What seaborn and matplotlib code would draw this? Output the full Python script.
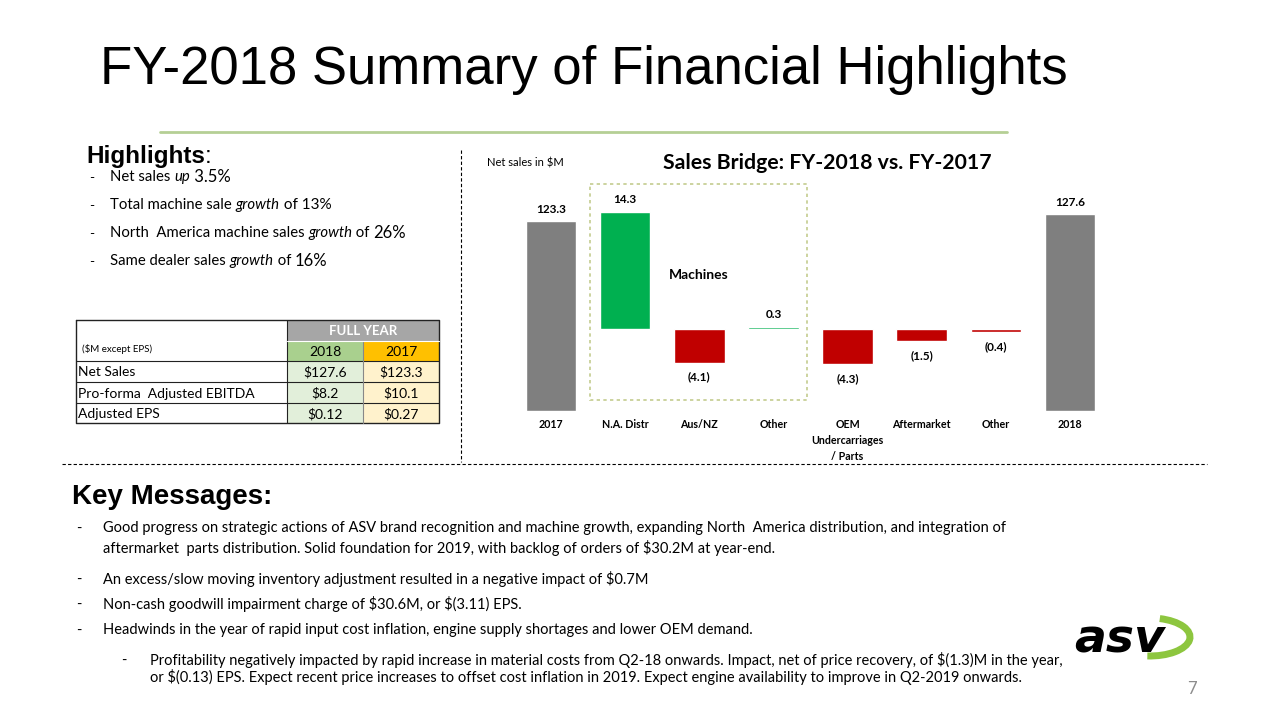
import matplotlib
matplotlib.use("Agg")
import matplotlib.pyplot as plt
from matplotlib.patches import Rectangle, Arc
import pandas as pd
import seaborn as sns

W, H = 1280, 720

# ---- data -------------------------------------------------------------
bar_keys = ["2017", "NA", "AUS", "OTH1", "OEM", "AFT", "OTH2", "2018"]
bar_labels = ["2017", "N.A. Distr", "Aus/NZ", "Other",
              "OEM\nUndercarriages\n/ Parts", "Aftermarket", "Other", "2018"]
total_keys = ["2017", "2018"]
total_values = [123.3, 127.6]
delta_keys = ["NA", "AUS", "OTH1", "OEM", "AFT", "OTH2"]
delta_values = [14.3, -4.1, 0.3, -4.3, -1.5, -0.4]

table_rows = ["Net Sales", "Pro-forma  Adjusted EBITDA", "Adjusted EPS"]
table_2018 = ["$127.6", "$8.2", "$0.12"]
table_2017 = ["$123.3", "$10.1", "$0.27"]

highlights = [
    [("Net sales ", {}), ("up", {"style": "italic"}), (" 3.5%", {"size": 12})],
    [("Total machine sale ", {}), ("growth", {"style": "italic"}), (" of 13%", {"size": 11})],
    [("North  America machine sales ", {}), ("growth", {"style": "italic"}),
     (" of ", {}), ("26%", {"size": 12})],
    [("Same dealer sales ", {}), ("growth", {"style": "italic"}),
     (" of ", {}), ("16%", {"size": 12})],
]

key_messages = [
    ["Good progress on strategic actions of ASV brand recognition and machine growth, "
     "expanding North  America distribution, and integration of",
     "aftermarket  parts distribution. Solid foundation for 2019, with backlog of orders "
     "of $30.2M at year-end."],
    ["An excess/slow moving inventory adjustment resulted in a negative impact of $0.7M"],
    ["Non-cash goodwill impairment charge of $30.6M, or $(3.11) EPS."],
    ["Headwinds in the year of rapid input cost inflation, engine supply shortages and "
     "lower OEM demand."],
]
sub_message = [
    "Profitability negatively impacted by rapid increase in material costs from Q2-18 "
    "onwards. Impact, net of price recovery, of $(1.3)M in the year,",
    "or $(0.13) EPS. Expect recent price increases to offset cost inflation in 2019. "
    "Expect engine availability to improve in Q2-2019 onwards.",
]

GREY = "#7f7f7f"
GREEN = "#00b050"
RED = "#c00000"

sns.set_style("white")
plt.rcParams["font.family"] = ["Lato", "DejaVu Sans"]
plt.rcParams["text.parse_math"] = False
plt.rcParams["text.color"] = "black"
plt.rcParams["xtick.color"] = "black"

fig = plt.figure(figsize=(12.8, 7.2), dpi=100)
bg = fig.add_axes([0, 0, 1, 1], zorder=0)
bg.set_xlim(0, W)
bg.set_ylim(H, 0)
bg.axis("off")
renderer = fig.canvas.get_renderer()


def rich(x, y, pieces, size=10, **kw):
    for txt, style in pieces:
        opts = {"size": size, **kw, **style}
        t = bg.text(x, y, txt, va="center", ha="left", **opts)
        x += t.get_window_extent(renderer).width


# ---- header -----------------------------------------------------------
bg.text(100, 70, "FY-2018 Summary of Financial Highlights", family="Liberation Sans",
        size=38, va="center", ha="left")
bg.plot([160, 1007], [132, 132], color="#b5cf95", lw=2)

# ---- separators -------------------------------------------------------
bg.plot([461, 461], [150, 462], color="black", lw=0.8, ls=(0, (3, 2)))
bg.plot([62, 1207], [464, 464], color="black", lw=0.8, ls=(0, (3, 2)))

# ---- highlights -------------------------------------------------------
rich(86, 157, [("Highlights", {"weight": "bold"}), (":", {})],
     size=17.5, family="Liberation Sans")
for i, pieces in enumerate(highlights):
    y = 177 + i * 28
    bg.text(89, y + 1, "-", size=10, va="center")
    rich(110, y, pieces, size=10.7)

# ---- table ------------------------------------------------------------
rows = [320, 341, 361, 382, 403, 423]
bg.add_patch(Rectangle((287, 320), 152, 21, color="#a6a6a6", lw=0))
bg.add_patch(Rectangle((287, 341), 76, 20, color="#a9d08e", lw=0))
bg.add_patch(Rectangle((363, 341), 76, 20, color="#ffc000", lw=0))
bg.add_patch(Rectangle((287, 361), 76, 62, color="#e2efda", lw=0))
bg.add_patch(Rectangle((363, 361), 76, 62, color="#fff2cc", lw=0))
bg.text(363, 331, "FULL YEAR", color="white", weight="bold", size=9.5, ha="center", va="center")
bg.text(325, 352, "2018", size=10, ha="center", va="center")
bg.text(401, 352, "2017", size=10, ha="center", va="center")
bg.text(82, 349, "($M except EPS)", size=7, ha="left", va="center")
for i, name in enumerate(table_rows):
    yc = (rows[i + 2] + rows[i + 3]) / 2 + 1
    bg.text(78, yc, name, size=10, ha="left", va="center")
    bg.text(325, yc, table_2018[i], size=10, ha="center", va="center")
    bg.text(401, yc, table_2017[i], size=10, ha="center", va="center")
lc = "#222222"
bg.plot([76, 439, 439, 76, 76], [320, 320, 423, 423, 320], color=lc, lw=1)
for y in rows[2:5]:
    bg.plot([76, 439], [y, y], color=lc, lw=0.8)
bg.plot([287, 287], [320, 423], color=lc, lw=0.8)
bg.plot([363, 363], [341, 423], color="#888888", lw=0.8)
bg.plot([287, 439], [341, 341], color="white", lw=0.8)

# ---- waterfall chart --------------------------------------------------
rect = [514 / W, 1 - 411 / H, 593 / W, 231 / H]
ax = fig.add_axes(rect, zorder=2)
ax_d = fig.add_axes(rect, zorder=3)
for a in (ax, ax_d):
    a.set_facecolor("none")

tot = pd.DataFrame({"key": total_keys, "value": total_values})
sns.barplot(data=tot, x="key", y="value", order=bar_keys, hue="key",
            palette={k: GREY for k in total_keys}, width=0.68, saturation=1,
            legend=False, ax=ax)
ax.set_ylim(0, 150)
ax.set_xlim(-0.5, 7.5)
for k, v in zip(total_keys, total_values):
    ax.annotate(f"{v:.1f}", (bar_keys.index(k), v), xytext=(0, 12),
                textcoords="offset pixels", ha="center", va="center",
                size=8.5, weight="bold")

dlt = pd.DataFrame({"key": delta_keys, "value": delta_values})
dlt["sign"] = ["up" if v > 0 else "down" for v in delta_values]
sns.barplot(data=dlt, x="key", y="value", order=bar_keys, hue="sign",
            palette={"up": GREEN, "down": RED}, width=0.68, saturation=1,
            dodge=False, legend=False, ax=ax_d)
ax_d.set_ylim(-10, 18.17)
ax_d.set_xlim(-0.5, 7.5)
ax_d.axis("off")
for k, v in zip(delta_keys, delta_values):
    lab = f"{v:.1f}" if v > 0 else f"({abs(v):.1f})"
    ax_d.annotate(lab, (bar_keys.index(k), v), xytext=(0, 12 if v > 0 else -14),
                  textcoords="offset pixels", ha="center", va="center",
                  size=8.5, weight="bold")

ax.set_xticks(range(len(bar_keys)))
ax.set_xticklabels(bar_labels, weight="bold", size=7.7, linespacing=1.55)
ax.tick_params(axis="x", length=0, pad=6)
ax.set_xlabel("")
ax.set_ylabel("")
ax.set_yticks([])
sns.despine(ax=ax, left=True, bottom=True)

# machines box and chart texts
bg.add_patch(Rectangle((590, 184), 217, 216, fill=False, ec="#c3cc8f",
                       lw=1.2, ls=(0, (2, 2)), zorder=1))
bg.text(669, 275, "Machines", size=10, weight="bold", va="center", ha="left")
bg.text(487, 163, "Net sales in $M", size=8, va="center", ha="left")
bg.text(827, 163, "Sales Bridge: FY-2018 vs. FY-2017", size=15.3, weight="bold",
        va="center", ha="center")

# ---- key messages -----------------------------------------------------
bg.text(72, 497, "Key Messages:", family="Liberation Sans", weight="bold", size=20,
        va="center", ha="left")
ys = [[528, 548], [579], [604], [630]]
for lines, yl in zip(key_messages, ys):
    bg.text(76, yl[0] + 1, "-", size=10.5, va="center")
    for txt, y in zip(lines, yl):
        bg.text(103, y, txt, size=10.5, va="center", ha="left")
bg.text(121, 661, "-", size=10.5, va="center")
for txt, y in zip(sub_message, [660, 677]):
    bg.text(150, y, txt, size=10.5, va="center", ha="left")

# ---- logo & page number -----------------------------------------------
bg.add_patch(Arc((1150, 637), 80, 38, theta1=-62, theta2=98, color="#8dc63f",
                 lw=5, zorder=1))
bg.text(1074, 640, "asv", family="DejaVu Sans", weight="heavy", style="italic",
        size=34, va="center", ha="left", zorder=2)
bg.text(1192, 689, "7", size=12, color="#8c8c8c", va="center", ha="center")

fig.savefig("out.png", dpi=100)
